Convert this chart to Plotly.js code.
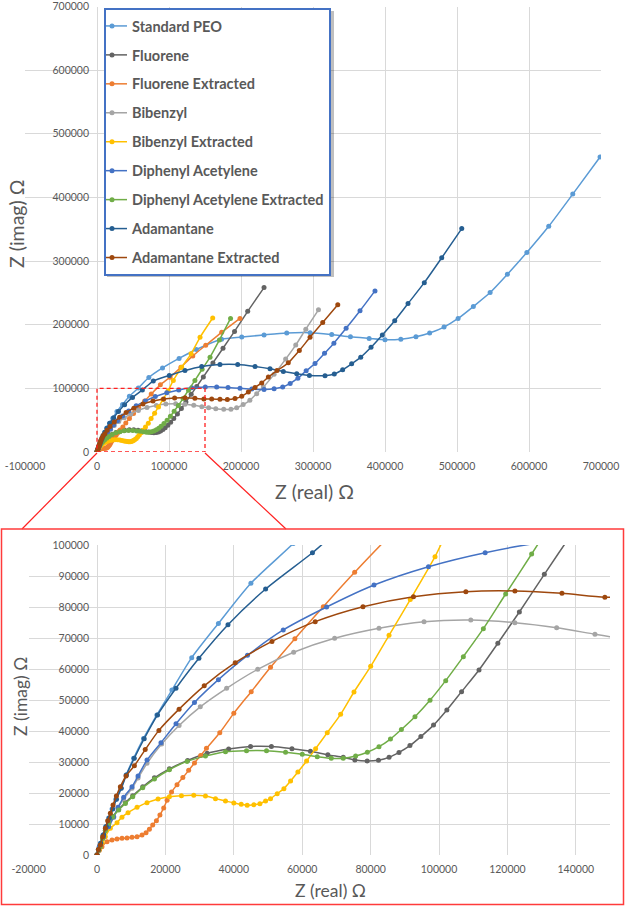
<!DOCTYPE html>
<html>
<head>
<meta charset="utf-8">
<script src="https://cdn.plot.ly/plotly-3.0.1.min.js"></script>
<style>html,body{margin:0;padding:0;background:#fff;}#chart{width:625px;height:906px;}</style>
</head>
<body>
<div id="chart"></div>
<script>
// ---- data: [Z real, Z imag] in ohm ----
const seriesNames = ["Standard PEO","Fluorene","Fluorene Extracted","Bibenzyl","Bibenzyl Extracted","Diphenyl Acetylene","Diphenyl Acetylene Extracted","Adamantane","Adamantane Extracted"];

const standardPEO = [[0,0],[400,1800],[1000,3800],[1700,6400],[2500,9100],[3400,11900],[4400,14800],[5500,18000],[7000,21600],[8500,25800],[10700,31200],[13600,37600],[17500,45200],[21900,53200],[27700,63650],[35500,74700],[45000,87650],[57400,100500],[72000,117000],[91000,132000],[114000,147000],[138000,161000],[173000,177000],[201000,180500],[232000,184000],[263500,187000],[296000,187500],[326000,184500],[352000,181000],[378000,178500],[400000,176500],[422000,177300],[443000,181000],[462000,187000],[482000,196300],[501500,209800],[522700,228600],[546000,250500],[570000,279200],[597000,313600],[627400,354700],[660800,405200],[698700,463600]];

const fluorene = [[0,0],[500,1500],[980,2800],[1660,5300],[2440,7900],[3410,10200],[4590,12400],[6340,14700],[8290,16900],[10440,19100],[13370,22000],[16780,24900],[21170,27800],[26500,30500],[32200,32800],[38500,34200],[44900,35000],[51000,35000],[57000,34300],[62400,33500],[67500,32300],[72000,31500],[75400,30650],[79000,30350],[82300,30600],[85400,31500],[88300,33100],[91500,35300],[94700,38200],[98400,41900],[102300,46800],[106600,52700],[111700,59700],[117200,68300],[123500,78400],[130800,90550],[138500,103100],[147700,118000],[161000,140000],[175000,163000],[191000,189500],[209300,221000],[232000,258300]];

const fluoreneExtracted = [[0,0],[700,1500],[1460,2700],[2930,4300],[4390,4840],[5850,5160],[7320,5380],[8780,5480],[10240,5700],[11710,5910],[13170,6450],[14340,7200],[15320,8280],[16290,9680],[17370,11070],[18400,12900],[19500,15200],[20500,17700],[21800,20300],[23400,22700],[25100,25000],[26800,27300],[28500,29700],[30300,32100],[32000,34400],[35900,39450],[40000,45700],[45090,52690],[50740,60550],[57860,69790],[66170,80100],[75340,91200],[88000,105500],[101500,117500],[116500,133000],[133000,151000],[151000,167700],[173200,188000],[198600,209900]];

const bibenzyl = [[0,0],[700,2800],[1950,5800],[3410,9000],[4880,12100],[6150,15000],[7800,18100],[10240,21500],[12000,24800],[14630,29600],[18900,35800],[24000,41800],[30200,47800],[37900,53780],[47000,59900],[57500,65390],[69480,69900],[82450,73130],[95630,75270],[109300,75810],[122180,74950],[134400,73330],[145600,71200],[155000,69500],[165000,68000],[176000,67000],[186000,67000],[194000,69500],[203000,74500],[212300,81250],[221800,91700],[231000,102000],[246000,122000],[262000,146000],[276000,168000],[290000,193000],[307600,223400]];

const bibenzylExtracted = [[0,0],[700,2000],[1500,4000],[2440,5900],[3900,8600],[5850,10430],[7300,12200],[9070,13650],[11710,15370],[14630,16880],[17850,18060],[21170,18810],[24680,19140],[28290,19240],[31710,19000],[34640,18180],[37570,17430],[40010,16790],[42160,16350],[43920,16030],[45870,16240],[47630,16560],[49290,17430],[50740,18180],[52700,19780],[54650,21400],[56600,23860],[58740,26760],[61280,30310],[63920,34300],[67330,39460],[71230,45370],[75140,52580],[80020,60860],[85390,70860],[91600,82400],[98830,96240],[106000,112500],[117600,133300],[130600,154200],[143100,180200],[160700,210500]];

const diphenylAcetylene = [[0,0],[700,2800],[1950,5900],[3410,9140],[4880,12360],[6150,15370],[7800,18600],[10240,22040],[12000,25480],[14630,30640],[18700,36230],[23100,42350],[28500,49200],[35500,56560],[44000,64400],[54450,72590],[67140,80000],[80990,87100],[96920,93010],[113500,97530],[131500,101000],[150400,102300],[166200,102300],[182000,101300],[198600,100000],[215000,98800],[232000,98400],[246000,99500],[257900,102000],[268300,107800],[279000,116000],[290500,127500],[302800,139000],[316000,155000],[329000,171000],[346000,194300],[365300,221900],[386100,253100]];

const diphenylAcetyleneExtracted = [[0,0],[500,1500],[980,2700],[1660,5300],[2440,7900],[3410,10100],[4590,12300],[6340,14500],[8290,16600],[10440,18800],[13370,21700],[16780,24500],[21170,27500],[26340,30200],[31710,31900],[37570,33330],[43720,33650],[49570,33650],[55130,33130],[60020,32480],[64400,31710],[68500,31190],[72000,31190],[75630,31940],[79050,33130],[82450,34940],[85800,37400],[89000,40500],[92980,44620],[97370,49900],[101960,56240],[107120,63980],[112970,73010],[119490,84200],[127090,97100],[136000,112500],[146000,130000],[157000,149000],[170000,176000],[185500,209900]];

const adamantane = [[0,0],[400,1800],[1100,3800],[1900,6500],[2700,9200],[3600,11900],[4600,14800],[5700,18000],[7100,21500],[8600,25800],[10900,31200],[13800,37500],[17700,45200],[23100,53800],[29800,63450],[38300,74300],[49300,85800],[63000,97500],[78200,111500],[100400,120300],[122200,128100],[145400,134400],[170800,137500],[195400,137500],[219500,134400],[240300,130800],[258800,126500],[277400,123000],[295000,120300],[316700,120000],[329600,122500],[341200,129200],[353700,138600],[366300,148900],[380600,164500],[396300,183900],[413500,206300],[432000,233300],[454600,266100],[478800,305200],[506600,351100]];

const adamantaneExtracted = [[0,0],[400,1800],[980,3230],[1660,5910],[2440,8600],[3120,11070],[3900,13440],[4680,16130],[5660,19030],[6830,22040],[8490,25480],[10930,28800],[14100,34000],[18100,40200],[24000,47050],[31350,54570],[40420,62040],[51160,68900],[63800,75270],[77770,80100],[92530,83330],[107850,84950],[122200,85170],[135950,84410],[148500,83140],[159300,83300],[170800,82800],[181000,82300],[191700,83900],[201000,87500],[210200,94200],[219500,101500],[228800,108500],[238000,117700],[250000,128000],[265700,140100],[281000,159400],[295900,180200],[313500,203600],[334400,231300]];

const topXTicks = [-100000,0,100000,200000,300000,400000,500000,600000,700000];
const topYTicks = [0,100000,200000,300000,400000,500000,600000,700000];
const insetXTicks = [-20000,0,20000,40000,60000,80000,100000,120000,140000];
const insetYTicks = [0,10000,20000,30000,40000,50000,60000,70000,80000,90000,100000];

// ---- styles ----
const seriesData = [standardPEO,fluorene,fluoreneExtracted,bibenzyl,bibenzylExtracted,diphenylAcetylene,diphenylAcetyleneExtracted,adamantane,adamantaneExtracted];
const colors = ["#5B9BD5","#636363","#ED7D31","#A5A5A5","#FFC000","#4472C4","#70AD47","#255E91","#9E480E"];

const W = 625, H = 906;
const px = v => v / W;
const py = v => 1 - v / H;
const FONT = "Lato, 'Open Sans', sans-serif";
const GREY = "#595959";
const GRID = "#d9d9d9";

const traces = [];
seriesData.forEach((s, i) => {
  traces.push({
    x: s.map(p => p[0]), y: s.map(p => p[1]), name: seriesNames[i], type: "scatter", mode: "lines+markers",
    xaxis: "x", yaxis: "y", legendgroup: "g" + i,
    line: {color: colors[i], width: 1.5, shape: "spline", smoothing: 0.7},
    marker: {color: colors[i], size: 5}
  });
});
seriesData.forEach((s, i) => {
  traces.push({
    x: s.map(p => p[0]), y: s.map(p => p[1]), name: seriesNames[i], type: "scatter", mode: "lines+markers",
    xaxis: "x2", yaxis: "y2", showlegend: false, legendgroup: "g" + i,
    line: {color: colors[i], width: 1.5, shape: "spline", smoothing: 0.7},
    marker: {color: colors[i], size: 5}
  });
});

const tickFont = {family: FONT, size: 10.5, color: GREY};
const axisBase = {
  showgrid: true, gridcolor: GRID, gridwidth: 1, zeroline: false, showline: false,
  ticks: "", tickfont: tickFont, fixedrange: true, ticklabeloverflow: "allow"
};

const layout = {
  width: W, height: H,
  margin: {l: 0, r: 0, t: 0, b: 0},
  paper_bgcolor: "#fff", plot_bgcolor: "#fff",
  showlegend: true,
  xaxis: Object.assign({}, axisBase, {
    domain: [px(25), px(601)], range: [-100000, 700000],
    tickmode: "array", tickvals: topXTicks, ticktext: topXTicks.map(String),
    anchor: "y", ticklabelstandoff: 6
  }),
  yaxis: Object.assign({}, axisBase, {
    domain: [py(452), py(6.5)], range: [0, 700000],
    tickmode: "array", tickvals: topYTicks, ticktext: topYTicks.map(String),
    anchor: "free", position: px(97), ticklabelstandoff: 8
  }),
  xaxis2: Object.assign({}, axisBase, {
    domain: [px(28.6), px(610)], range: [-20000, 150000],
    tickmode: "array", tickvals: insetXTicks, ticktext: insetXTicks.map(String),
    anchor: "y2", ticklabelstandoff: 6
  }),
  yaxis2: Object.assign({}, axisBase, {
    domain: [py(855), py(545)], range: [0, 100000],
    tickmode: "array", tickvals: insetYTicks, ticktext: insetYTicks.map(String),
    anchor: "free", position: px(97), ticklabelstandoff: 8
  }),
  legend: {
    x: px(104), y: py(8), xanchor: "left", yanchor: "top",
    bgcolor: "#ffffff", bordercolor: "#4472C4", borderwidth: 2,
    font: {family: FONT, size: 14.5, color: GREY, weight: "bold"},
    traceorder: "grouped", tracegroupgap: 7.1, itemwidth: 30, indentation: -14
  },
  annotations: [
    {text: "Z (real) Ω", xref: "paper", yref: "paper", x: px(314), y: py(491), showarrow: false,
     xanchor: "center", yanchor: "middle", font: {family: FONT, size: 19.5, color: GREY}},
    {text: "Z (imag) Ω", xref: "paper", yref: "paper", x: px(16), y: py(224), showarrow: false,
     textangle: -90, xanchor: "center", yanchor: "middle", font: {family: FONT, size: 19.5, color: GREY}},
    {text: "Z (real) Ω", xref: "paper", yref: "paper", x: px(330), y: py(890), showarrow: false,
     xanchor: "center", yanchor: "middle", font: {family: FONT, size: 17.5, color: GREY}},
    {text: "Z (imag) Ω", xref: "paper", yref: "paper", x: px(20), y: py(697), showarrow: false,
     textangle: -90, xanchor: "center", yanchor: "middle", font: {family: FONT, size: 17.5, color: GREY}}
  ],
  shapes: [
    // zoom window in the main plot
    {type: "rect", xref: "x", yref: "y", x0: 0, x1: 150000, y0: 0, y1: 100000,
     line: {color: "#ff2020", width: 1.3, dash: "4px,3px"}, layer: "above"},
    // connector lines to the inset
    {type: "line", xref: "paper", yref: "paper", x0: px(97), y0: py(453), x1: px(22), y1: py(529),
     line: {color: "#ff2020", width: 1.2}},
    {type: "line", xref: "paper", yref: "paper", x0: px(205), y0: py(453), x1: px(286), y1: py(529),
     line: {color: "#ff2020", width: 1.2}},
    // inset frame
    {type: "rect", xref: "paper", yref: "paper", x0: px(1.5), x1: px(623.5), y0: py(904.5), y1: py(529),
     line: {color: "#ff3b3b", width: 1.5}},
    // legend shadow
    {type: "rect", xref: "paper", yref: "paper", x0: px(107), x1: px(334), y0: py(277), y1: py(11),
     fillcolor: "rgba(0,0,0,0.25)", line: {width: 0}, layer: "above"}
  ]
};

Plotly.newPlot("chart", traces, layout, {staticPlot: true, displayModeBar: false});
</script>
</body>
</html>
